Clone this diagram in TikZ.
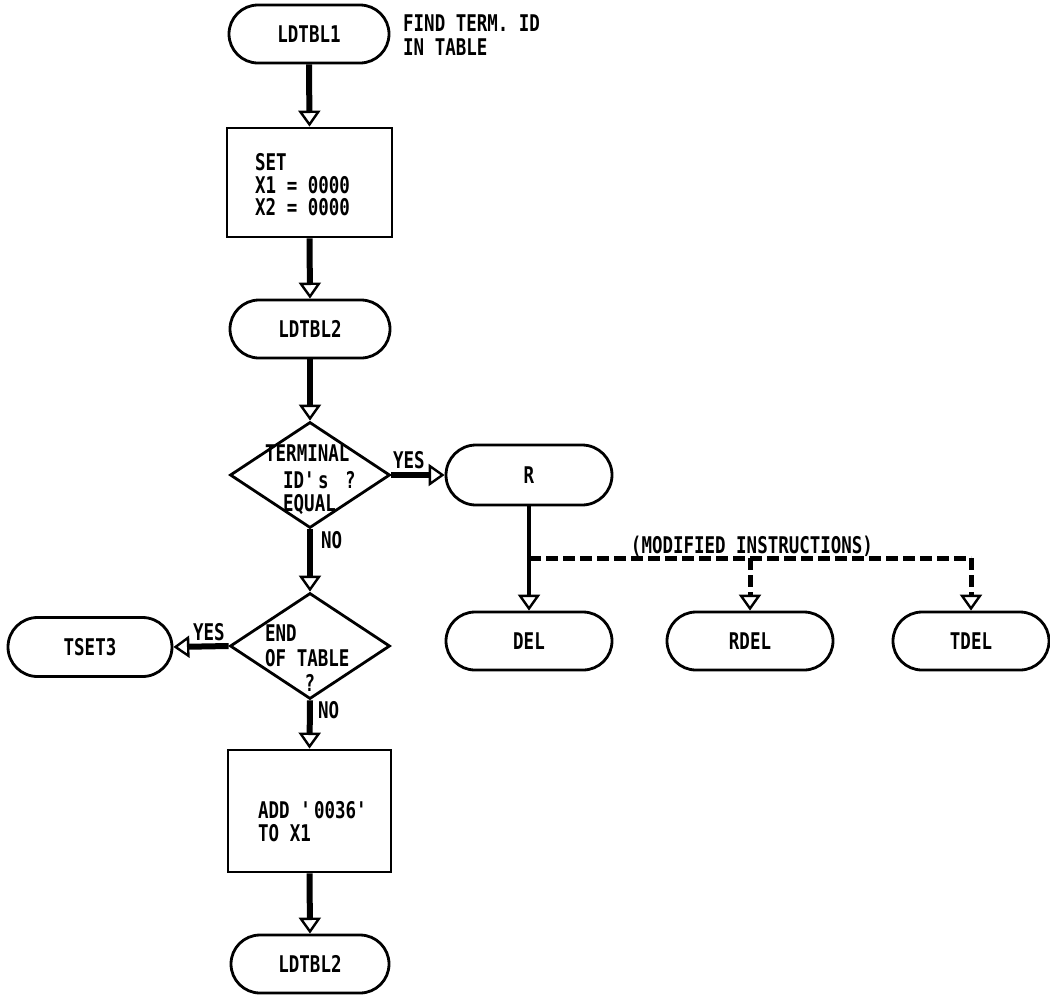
\documentclass[tikz,border=0pt]{standalone}
\usepackage{fontspec}
\setmainfont[FakeStretch=0.76]{DejaVu Sans Mono}
\usetikzlibrary{shapes.misc,shapes.geometric,arrows.meta}
\tikzset{
  lbl/.style={font=\fontsize{23}{26}\selectfont\bfseries},
  term/.style={draw, line width=2.8pt, rounded rectangle, minimum width=160pt, minimum height=58pt, inner sep=0pt, lbl},
  procbox/.style={draw, line width=2.8pt, rectangle, inner sep=0pt},
  dec/.style={draw, line width=2.8pt, diamond, minimum width=160pt, minimum height=106pt, inner sep=0pt},
  txt/.style={anchor=base west, inner sep=0pt, lbl},
  ctxt/.style={anchor=base, inner sep=0pt, lbl},
  tip/.style={-{Triangle[open, length=16pt, width=22pt, line width=2.4pt]}},
  flow/.style={line width=6pt, tip},
  thinflow/.style={line width=3.5pt, tip},
  modline/.style={line width=5pt, dash pattern=on 12pt off 5pt},
}
\begin{document}
\begin{tikzpicture}[x=1pt,y=-1pt]
\useasboundingbox (0,0) rectangle (1050,997);
% nodes
\node[term] (l1) at (309,34) {LDTBL1};
\node[txt] (note1) at (403,31.5) {FIND TERM. ID};
\node[txt] (note2) at (403,55.5) {IN TABLE};

\node[procbox, minimum width=165pt, minimum height=109pt] (set) at (309.5,182.5) {};
\node[txt] (s1) at (255,170.5) {SET};
\node[txt] (s2) at (255,193) {X1 = 0000};
\node[txt] (s3) at (255,215.5) {X2 = 0000};

\node[term] (l2) at (310,329) {LDTBL2};

\node[dec] (d1) at (310,475) {};
\node[txt] (d1a) at (265,461.5) {TERMINAL};
\node[txt] (d1b) at (283,488) {ID\textquotesingle s};
\node[txt] (d1c) at (345,488) {?};
\node[txt] (d1d) at (283,511) {EQUAL};

\node[term, minimum width=166pt, minimum height=60pt] (r) at (529,475) {R};

\node[dec] (d2) at (310,646) {};
\node[txt] (d2a) at (265,641.5) {END};
\node[txt] (d2b) at (265,666.5) {OF TABLE};
\node[ctxt] (d2c) at (310,691.5) {?};

\node[term, minimum width=164pt, minimum height=59pt] (tset) at (90,647) {TSET3};

\node[procbox, minimum width=163pt, minimum height=122pt] (add) at (309.5,811) {};
\node[txt] (a1) at (258,818.5) {ADD \textquotesingle 0036\textquotesingle};
\node[txt] (a2) at (258,841.5) {TO X1};

\node[term, minimum width=158pt] (l3) at (310,964) {LDTBL2};

\node[term, minimum width=166pt] (del) at (529,641) {DEL};
\node[term, minimum width=166pt] (rdel) at (750,641) {RDEL};
\node[term, minimum width=156pt] (tdel) at (971,641) {TDEL};

% labels
\node[txt] (y1) at (393,468.5) {YES};
\node[txt] (n1) at (321,548.5) {NO};
\node[txt] (y2) at (193,640.5) {YES};
\node[txt] (n2) at (318,718.5) {NO};
\node[ctxt] (mod) at (752,553.5) {(MODIFIED INSTRUCTIONS)};

% connectors
\draw[flow] (l1.south) -- (set.north);
\draw[flow] (set.south) -- (l2.north);
\draw[flow] (l2.south) -- (d1.north);
\draw[flow] (d1.east) -- (r.west);
\draw[flow] (d1.south) -- (d2.north);
\draw[flow] (d2.west) -- (tset.east);
\draw[flow] (d2.south) -- (add.north);
\draw[flow] (add.south) -- (l3.north);
\draw[thinflow] (r.south) -- (del.north);

\coordinate (j) at (529,558);
\coordinate (jr) at (750,558);
\coordinate (jt) at (971,558);
\draw[modline] (j) -- (jt);
\draw[modline, tip] (jt) -- (tdel.north);
\draw[modline, tip] (jr) -- (rdel.north);
\end{tikzpicture}
\end{document}
